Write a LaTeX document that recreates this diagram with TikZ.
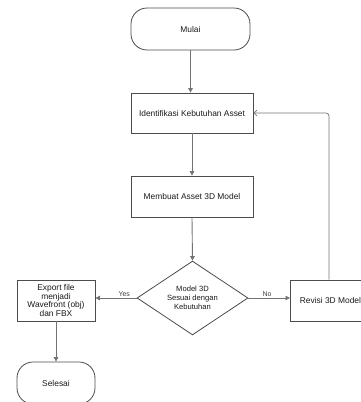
\documentclass[tikz,border=0pt]{standalone}
\usepackage{fontspec}
\setmainfont{Liberation Sans}
\usetikzlibrary{shapes.geometric,arrows.meta}
\begin{document}
\begin{tikzpicture}[x=1pt,y=-1pt,
  every node/.style={font=\fontsize{8.4}{9.4}\selectfont, text=black!90},
  procbox/.style={draw=black!70, line width=0.8pt, rectangle, inner sep=1pt, align=center},
  termbox/.style={draw=black!70, line width=0.8pt, rectangle, rounded corners=16pt, inner sep=1pt, align=center},
  decbox/.style={draw=black!70, line width=0.8pt, diamond, inner sep=0pt, align=center, minimum width=111pt, minimum height=72pt},
  flow/.style={draw=black!55, line width=0.9pt, -{Triangle[length=4.5pt,width=4.5pt]}},
  backflow/.style={draw=black!55, line width=0.7pt, -{Straight Barb[length=3pt,width=5.5pt]}, rounded corners=3pt},
  lbl/.style={font=\fontsize{7}{8}\selectfont, text=black!75, inner sep=1pt}
]
\path[use as bounding box] (0,0) rectangle (361,402);
\clip (0,0) rectangle (361,402);
\node[termbox, minimum width=119pt, minimum height=42pt] (mulai) at (190.5,29) {Mulai};
\node[procbox, minimum width=122pt, minimum height=40pt] (ident) at (192,113) {Identifikasi Kebutuhan Asset};
\node[procbox, minimum width=122pt, minimum height=41pt] (buat) at (192,196.5) {Membuat Asset 3D Model};
\node[decbox, font=\fontsize{7.6}{8.8}\selectfont] (dec) at (192.5,298) {Model 3D\\Sesuai dengan\\Kebutuhan};
\node[procbox, minimum width=78pt, minimum height=41pt, font=\fontsize{8.4}{8.6}\selectfont] (export) at (56,300.5) {Export file\\menjadi\\Wavefront (obj)\\dan FBX};
\node[procbox, minimum width=74pt, minimum height=41pt, anchor=west, inner sep=0pt] (revisi) at (290,300.5) {\hspace*{4pt}Revisi 3D Model\hspace*{-2pt}};
\node[termbox, minimum width=78pt, minimum height=42pt] (selesai) at (56,383) {Selesai};
\draw[flow] (mulai.south) -- (mulai.south |- ident.north);
\draw[flow] (ident.south) -- (buat.north);
\draw[flow] (buat.south) -- (dec.north);
\draw[flow] (dec.west) -- node[lbl, above, pos=0.3] {Yes} (dec.west -| export.east);
\draw[flow] (dec.east) -- node[lbl, above, pos=0.45] {No} (dec.east -| revisi.west);
\draw[flow] (export.south) -- (selesai.north);
\coordinate (up) at (329,113);
\draw[backflow] (revisi.north -| up) |- (ident.east);
\end{tikzpicture}
\end{document}
